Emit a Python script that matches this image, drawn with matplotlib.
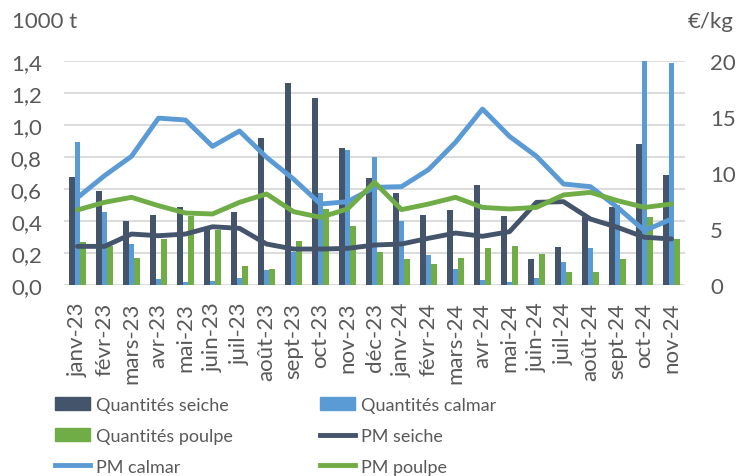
import numpy as np
import matplotlib
matplotlib.use("Agg")
import matplotlib.pyplot as plt
from matplotlib.patches import Patch
from matplotlib.lines import Line2D

plt.rcParams['font.family'] = ['Lato', 'DejaVu Sans']

mois = ["janv-23", "févr-23", "mars-23", "avr-23", "mai-23", "juin-23", "juil-23",
        "août-23", "sept-23", "oct-23", "nov-23", "déc-23", "janv-24", "févr-24",
        "mars-24", "avr-24", "mai-24", "juin-24", "juil-24", "août-24", "sept-24",
        "oct-24", "nov-24"]

# quantités (1000 t)
q_seiche = [0.675, 0.59, 0.40, 0.44, 0.49, 0.36, 0.455, 0.92, 1.26, 1.167, 0.856, 0.67,
            0.573, 0.44, 0.467, 0.627, 0.433, 0.16, 0.237, 0.425, 0.49, 0.88, 0.69]
q_calmar = [0.894, 0.458, 0.254, 0.037, 0.017, 0.023, 0.044, 0.096, 0.205, 0.575, 0.846, 0.797,
            0.40, 0.185, 0.098, 0.029, 0.02, 0.044, 0.146, 0.231, 0.50, 1.50, 1.39]
q_poulpe = [0.267, 0.246, 0.167, 0.29, 0.433, 0.345, 0.12, 0.102, 0.277, 0.475, 0.367, 0.208,
            0.162, 0.133, 0.169, 0.231, 0.244, 0.194, 0.083, 0.08, 0.163, 0.423, 0.288]

# prix moyens (€/kg)
pm_seiche = [3.45, 3.45, 4.55, 4.4, 4.55, 5.2, 5.06, 3.66, 3.21, 3.21, 3.27, 3.57,
             3.66, 4.17, 4.64, 4.35, 4.76, 7.38, 7.44, 5.89, 5.15, 4.26, 4.11]
pm_calmar = [7.8, 9.76, 11.49, 14.9, 14.73, 12.38, 13.75, 11.4, 9.46, 7.23, 7.44, 8.72,
             8.78, 10.3, 12.74, 15.71, 13.27, 11.49, 9.02, 8.78, 6.93, 4.85, 5.89]
pm_poulpe = [6.7, 7.38, 7.83, 7.08, 6.43, 6.34, 7.38, 8.13, 6.55, 6.04, 6.79, 9.17,
             6.73, 7.23, 7.83, 6.93, 6.79, 6.93, 8.04, 8.27, 7.53, 6.93, 7.23]

c_seiche = "#44546A"
c_calmar = "#5B9BD5"
c_poulpe = "#70AD47"
gris = "#595959"

fig = plt.figure(figsize=(7.37, 4.77), dpi=100)
ax = fig.add_axes([64/737, 1-286/477, (685-64)/737, (286-62)/477])
ax2 = ax.twinx()

x = np.arange(len(mois))
w = 0.22
ax.bar(x - w, q_seiche, w, color=c_seiche, zorder=2)
ax.bar(x, q_calmar, w, color=c_calmar, zorder=2)
ax.bar(x + w, q_poulpe, w, color=c_poulpe, zorder=2)

ax2.plot(x, pm_seiche, color=c_seiche, lw=3.5, solid_capstyle='round')
ax2.plot(x, pm_calmar, color=c_calmar, lw=3.5, solid_capstyle='round')
ax2.plot(x, pm_poulpe, color=c_poulpe, lw=3.5, solid_capstyle='round')

ax.set_xlim(-0.5, len(mois) - 0.5)
ax.set_ylim(0, 1.4)
ax2.set_ylim(0, 20)
ax.set_yticks(np.arange(0, 1.41, 0.2))
ax.set_yticklabels([f"{v:.1f}".replace(".", ",") for v in np.arange(0, 1.41, 0.2)])
ax2.set_yticks([0, 5, 10, 15, 20])

ax.yaxis.grid(True, color="#d9d9d9", lw=1.3, zorder=0)
ax.set_axisbelow(True)
for a in (ax, ax2):
    for s in a.spines.values():
        s.set_visible(False)
    a.tick_params(length=0, labelsize=16, colors=gris)
ax.set_xticks(x)
ax.set_xticklabels(mois, rotation=90, fontsize=16, color=gris)
ax.tick_params(axis='y', pad=16)
ax2.tick_params(axis='y', pad=18)
ax.tick_params(axis='x', pad=12)

fig.text(12/737, 1-22/477, "1000 t", fontsize=16, color=gris, va='center')
fig.text(688/737, 1-22/477, "€/kg", fontsize=16, color=gris, va='center')

handles = [
    Patch(color=c_seiche), Patch(color=c_poulpe),
    Line2D([], [], color=c_calmar, lw=3.5),
    Patch(color=c_calmar),
    Line2D([], [], color=c_seiche, lw=3.5),
    Line2D([], [], color=c_poulpe, lw=3.5),
]
labels = ["Quantités seiche", "Quantités poulpe", "PM calmar",
          "Quantités calmar", "PM seiche", "PM poulpe"]
fig.legend(handles, labels, ncol=2, loc='upper left', bbox_to_anchor=(48/737, 1-391/477),
           frameon=False, fontsize=13, labelcolor=gris, handlelength=1.95,
           handleheight=0.72, handletextpad=0.33, columnspacing=4.8, labelspacing=0.82,
           borderpad=0.4, borderaxespad=0)

fig.savefig("out.png", dpi=100)
